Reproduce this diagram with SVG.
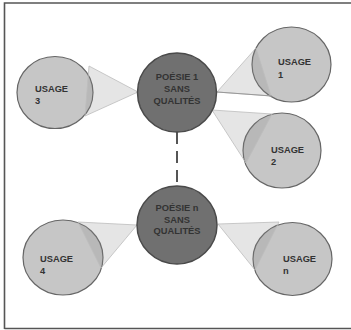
<svg xmlns="http://www.w3.org/2000/svg" width="351" height="330" viewBox="0 0 351 330">
<style>
.usage{fill:#c6c6c6;stroke:#666;stroke-width:1.2}
.core{fill:#707070;stroke:#4a4a4a;stroke-width:1.5}
.cone{fill:#888;fill-opacity:0.22;stroke:#bdbdbd;stroke-width:0.8}
.t{font-family:"Liberation Sans",Arial,sans-serif;font-size:9.3px;font-weight:bold;fill:#333}
.c{text-anchor:middle}
.dash{stroke:#555;stroke-width:2;stroke-dasharray:12 7;fill:none}
</style>
<rect width="351" height="330" fill="#fff"/>
<path d="M4.5,329 V3 H351 M4.5,328.5 H351" fill="none" stroke="#555" stroke-width="1.6"/>
<g id="usage1"><ellipse class="usage" cx="291.5" cy="64.5" rx="39.5" ry="37.5"/></g>
<g id="usage2"><ellipse class="usage" cx="282" cy="150.5" rx="39" ry="37.5"/></g>
<g id="usage3"><ellipse class="usage" cx="55" cy="92.5" rx="38" ry="36"/></g>
<g id="usage4"><ellipse class="usage" cx="63" cy="257.5" rx="40" ry="37.5"/></g>
<g id="usagen"><ellipse class="usage" cx="292.5" cy="259" rx="39.5" ry="36.5"/></g>
<g id="connectors">
<polygon class="cone" points="217,92 256,48 271,96"/>
<line x1="217" y1="92" x2="272" y2="96" stroke="#999" stroke-width="1"/>
<polygon class="cone" points="212,110 272,114 246,163"/>
<polygon class="cone" points="138,92 89,66 85,116"/>
<polygon class="cone" points="137,225 78,222 101,268"/>
<polygon class="cone" points="218,224 279,222 255,270"/>
<line class="dash" x1="177" y1="132" x2="177" y2="183"/>
</g>
<g id="poesie1"><circle class="core" cx="177" cy="92.5" r="39.5"/>
<text class="t c" x="177" y="80">POÉSIE 1</text>
<text class="t c" x="177" y="92">SANS</text>
<text class="t c" x="177" y="103.5">QUALITÉS</text></g>
<g id="poesien"><ellipse class="core" cx="177" cy="225" rx="40" ry="39"/>
<text class="t c" x="177" y="211">POÉSIE n</text>
<text class="t c" x="177" y="222.5">SANS</text>
<text class="t c" x="177" y="234">QUALITÉS</text></g>
<g id="labels">
<text class="t" x="278" y="65">USAGE</text><text class="t" x="278" y="77.5">1</text>
<text class="t" x="271" y="153">USAGE</text><text class="t" x="271" y="165">2</text>
<text class="t" x="35" y="92">USAGE</text><text class="t" x="35" y="103.5">3</text>
<text class="t" x="40" y="262">USAGE</text><text class="t" x="40" y="273.5">4</text>
<text class="t" x="283" y="262">USAGE</text><text class="t" x="283" y="273.5">n</text>
</g>
</svg>
